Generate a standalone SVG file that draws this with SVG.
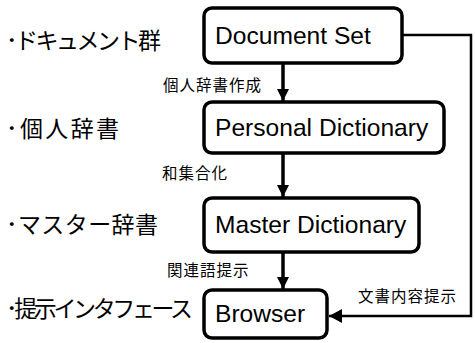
<svg xmlns="http://www.w3.org/2000/svg" width="475" height="343" viewBox="0 0 475 343">
<style>
.box{fill:#fff;stroke:#000;stroke-width:3.5}
.bt{font-family:"Liberation Sans",Arial,sans-serif;font-size:24.6px;fill:#000}
.jp{font-family:"Noto Sans CJK JP",sans-serif;fill:#000}
.big{font-size:23px}
.small{font-size:15.5px;letter-spacing:1px}
.edge{fill:none;stroke:#000}
</style>
<defs>
<marker id="ah" markerWidth="12" markerHeight="12" refX="12" refY="6" orient="auto" markerUnits="userSpaceOnUse" viewBox="0 0 12 12">
<path d="M0,0 L12,6 L0,12 Z" fill="#000"/>
</marker>
<marker id="ah2" markerWidth="13" markerHeight="14" refX="13" refY="7" orient="auto" markerUnits="userSpaceOnUse" viewBox="0 0 13 14">
<path d="M0,0 L13,7 L0,14 Z" fill="#000"/>
</marker>
</defs>
<g id="connectors">
<line class="edge" x1="283" y1="63" x2="283" y2="101" stroke-width="3.5" marker-end="url(#ah)"/>
<line class="edge" x1="283" y1="153" x2="283" y2="197" stroke-width="3.5" marker-end="url(#ah)"/>
<line class="edge" x1="283" y1="252" x2="283" y2="289" stroke-width="3.5" marker-end="url(#ah)"/>
<polyline class="edge" points="402,35 471,35 471,316 329,316" stroke-width="2.5" marker-end="url(#ah2)"/>
<text class="jp small" x="163" y="91">個人辞書作成</text>
<text class="jp small" x="162" y="179">和集合化</text>
<text class="jp small" x="167" y="276">関連語提示</text>
<text class="jp small" x="358" y="302">文書内容提示</text>
</g>
<g id="doc">
<rect class="box" x="204" y="8" width="198" height="55" rx="8"/>
<text class="bt" x="215" y="44">Document Set</text>
</g>
<g id="personal">
<rect class="box" x="204" y="102" width="240" height="51" rx="8"/>
<text class="bt" x="215" y="136">Personal Dictionary</text>
</g>
<g id="master">
<rect class="box" x="204" y="198" width="215" height="54" rx="8"/>
<text class="bt" x="215" y="233">Master Dictionary</text>
</g>
<g id="browser">
<rect class="box" x="204" y="290" width="123" height="48" rx="8"/>
<text class="bt" x="215" y="322">Browser</text>
</g>
<g id="labels">
<text class="jp big" x="6" y="49" textLength="155" lengthAdjust="spacing">･ドキュメント群</text>
<text class="jp big" x="6" y="137" textLength="113" lengthAdjust="spacing">･個人辞書</text>
<text class="jp big" x="6" y="233" textLength="152" lengthAdjust="spacing">･マスター辞書</text>
<text class="jp big" x="6" y="317" textLength="187" lengthAdjust="spacing">･提示インタフェース</text>
</g>
</svg>
